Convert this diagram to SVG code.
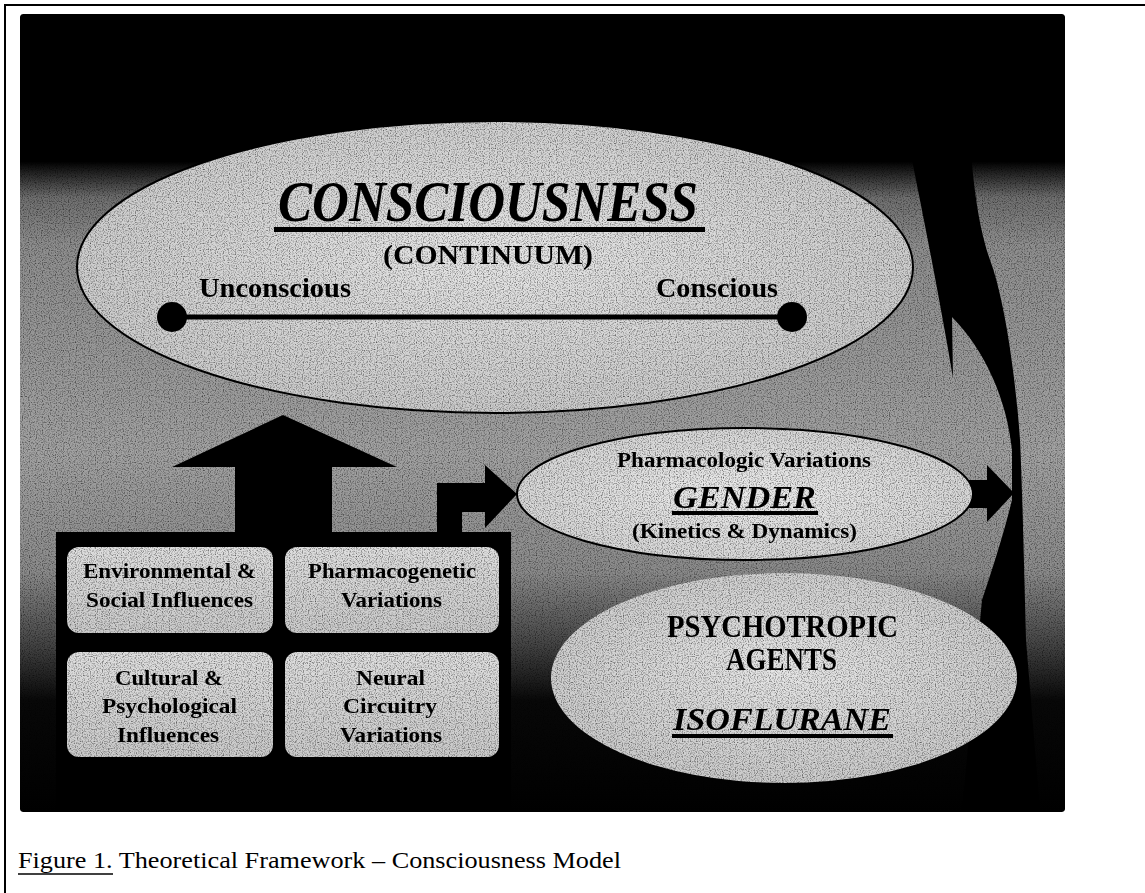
<svg xmlns="http://www.w3.org/2000/svg" width="1145" height="893" viewBox="0 0 1145 893">
  <defs>
    <style>
      .t { font-family: "Liberation Serif", "Times New Roman", serif; font-weight: bold; fill: #000; }
      .ti { font-family: "Liberation Serif", "Times New Roman", serif; font-weight: bold; font-style: italic; fill: #000; }
      .cap { font-family: "Liberation Serif", "Times New Roman", serif; font-size: 23px; fill: #000; }
      .box { fill: url(#boxFill); }
      .arrow { fill: #000; }
    </style>
    <linearGradient id="bg" gradientUnits="userSpaceOnUse" x1="0" y1="14" x2="0" y2="812">
      <stop offset="0" stop-color="#000"/>
      <stop offset="0.185" stop-color="#000"/>
      <stop offset="0.23" stop-color="#6e6e6e"/>
      <stop offset="0.29" stop-color="#8e8e8e"/>
      <stop offset="0.55" stop-color="#a2a2a2"/>
      <stop offset="0.70" stop-color="#8a8a8a"/>
      <stop offset="0.79" stop-color="#444"/>
      <stop offset="0.86" stop-color="#080808"/>
      <stop offset="1" stop-color="#000"/>
    </linearGradient>
    <radialGradient id="ellFill" cx="0.5" cy="0.45" r="0.6">
      <stop offset="0" stop-color="#e6e6e6"/>
      <stop offset="1" stop-color="#c8c8c8"/>
    </radialGradient>
    <radialGradient id="ell2Fill" cx="0.5" cy="0.5" r="0.6">
      <stop offset="0" stop-color="#ebebeb"/>
      <stop offset="1" stop-color="#d2d2d2"/>
    </radialGradient>
    <linearGradient id="boxFill" x1="0" y1="0" x2="0" y2="1">
      <stop offset="0" stop-color="#dedede"/>
      <stop offset="1" stop-color="#cacaca"/>
    </linearGradient>
    <filter id="grain" filterUnits="userSpaceOnUse" x="20" y="14" width="1045" height="798" color-interpolation-filters="sRGB">
      <feTurbulence type="fractalNoise" baseFrequency="0.85" numOctaves="1" seed="7" result="noise"/>
      <feColorMatrix in="noise" type="saturate" values="0" result="gray"/>
      <feComponentTransfer in="gray" result="adj">
        <feFuncR type="linear" slope="2.0" intercept="-0.06"/>
        <feFuncG type="linear" slope="2.0" intercept="-0.06"/>
        <feFuncB type="linear" slope="2.0" intercept="-0.06"/>
        <feFuncA type="linear" slope="0" intercept="1"/>
      </feComponentTransfer>
      <feBlend in="SourceGraphic" in2="adj" mode="multiply" result="mul"/>
      <feComposite in="mul" in2="SourceGraphic" operator="in"/>
    </filter>
  </defs>

  <!-- outer frame -->
  <line x1="5" y1="5" x2="1145" y2="5" stroke="#000" stroke-width="2"/>
  <line x1="5" y1="4" x2="5" y2="893" stroke="#000" stroke-width="2"/>

  <g filter="url(#grain)">
    <!-- panel background -->
    <g id="panel">
      <rect x="20" y="14" width="1045" height="798" rx="3" fill="url(#bg)"/>
    </g>

    <!-- connectors -->
    <g id="connectors">
      <!-- big curved arrow on the right -->
      <path class="arrow" d="M 900,110 L 912,160 C 922,210 940,300 953,378 L 952,317 C 985,350 1007,400 1012,450 L 1012,500 C 1002,540 992,570 982,600 L 962,812 L 1040,812 L 1026,640 C 1024,560 1022,480 1020,440 C 1016,380 1005,300 990,260 C 978,225 972,180 968,110 Z"/>
      <!-- up arrow from factors to consciousness -->
      <polygon class="arrow" points="283,415 397,467 332,467 332,540 235,540 235,467 172,467"/>
      <!-- frame around factor boxes -->
      <rect class="arrow" x="56" y="532" width="455" height="280"/>
      <!-- small arrow to gender -->
      <polygon class="arrow" points="437,540 437,483 485,483 485,465 517,494 485,528 485,512 462,512 462,540"/>
      <!-- arrow from gender to curved arrow -->
      <polygon class="arrow" points="965,480 987,480 987,465 1014,493 987,522 987,508 965,508"/>
    </g>

    <!-- consciousness ellipse -->
    <g id="node-consciousness">
      <ellipse cx="495" cy="267" rx="418" ry="146" fill="url(#ellFill)" stroke="#000" stroke-width="2"/>
      <text class="ti" x="278" y="221" font-size="56" textLength="420" lengthAdjust="spacingAndGlyphs">CONSCIOUSNESS</text>
      <rect x="274" y="227" width="431" height="5" fill="#000"/>
      <text class="t" x="383" y="264" font-size="27" textLength="210" lengthAdjust="spacingAndGlyphs">(CONTINUUM)</text>
      <text class="t" x="199" y="297" font-size="28" textLength="152" lengthAdjust="spacingAndGlyphs">Unconscious</text>
      <text class="t" x="656" y="297" font-size="28" textLength="122" lengthAdjust="spacingAndGlyphs">Conscious</text>
      <line x1="172" y1="317" x2="792" y2="317" stroke="#000" stroke-width="5"/>
      <circle cx="172" cy="317" r="15" fill="#000"/>
      <circle cx="792" cy="317" r="15" fill="#000"/>
    </g>

    <!-- gender ellipse -->
    <g id="node-gender">
      <ellipse cx="745" cy="494" rx="228" ry="66" fill="url(#ell2Fill)" stroke="#000" stroke-width="2"/>
      <text class="t" x="617" y="467" font-size="20" textLength="254" lengthAdjust="spacingAndGlyphs">Pharmacologic Variations</text>
      <text class="ti" x="673" y="508" font-size="32" textLength="143" lengthAdjust="spacingAndGlyphs">GENDER</text>
      <rect x="672" y="511" width="146" height="4" fill="#000"/>
      <text class="t" x="632" y="538" font-size="21" textLength="225" lengthAdjust="spacingAndGlyphs">(Kinetics &amp; Dynamics)</text>
    </g>

    <!-- psychotropic agents ellipse -->
    <g id="node-psychotropic">
      <ellipse cx="784" cy="678" rx="233" ry="105" fill="url(#ellFill)"/>
      <text class="t" x="667" y="637" font-size="32" textLength="231" lengthAdjust="spacingAndGlyphs">PSYCHOTROPIC</text>
      <text class="t" x="726" y="670" font-size="32" textLength="111" lengthAdjust="spacingAndGlyphs">AGENTS</text>
      <text class="ti" x="673" y="730" font-size="31" textLength="218" lengthAdjust="spacingAndGlyphs">ISOFLURANE</text>
      <rect x="672" y="734" width="221" height="4" fill="#000"/>
    </g>

    <!-- factor boxes -->
    <g id="node-environmental">
      <rect class="box" x="67" y="547" width="206" height="86" rx="12"/>
      <text class="t" x="83" y="578" font-size="21" textLength="173" lengthAdjust="spacingAndGlyphs">Environmental &amp;</text>
      <text class="t" x="86" y="607" font-size="21" textLength="167" lengthAdjust="spacingAndGlyphs">Social Influences</text>
    </g>
    <g id="node-pharmacogenetic">
      <rect class="box" x="285" y="547" width="214" height="86" rx="12"/>
      <text class="t" x="308" y="578" font-size="21" textLength="168" lengthAdjust="spacingAndGlyphs">Pharmacogenetic</text>
      <text class="t" x="341" y="607" font-size="21" textLength="101" lengthAdjust="spacingAndGlyphs">Variations</text>
    </g>
    <g id="node-cultural">
      <rect class="box" x="67" y="652" width="206" height="105" rx="12"/>
      <text class="t" x="115" y="685" font-size="22" textLength="108" lengthAdjust="spacingAndGlyphs">Cultural &amp;</text>
      <text class="t" x="102" y="713" font-size="22" textLength="135" lengthAdjust="spacingAndGlyphs">Psychological</text>
      <text class="t" x="117" y="742" font-size="22" textLength="102" lengthAdjust="spacingAndGlyphs">Influences</text>
    </g>
    <g id="node-neural">
      <rect class="box" x="285" y="652" width="214" height="105" rx="12"/>
      <text class="t" x="356" y="685" font-size="22" textLength="69" lengthAdjust="spacingAndGlyphs">Neural</text>
      <text class="t" x="343" y="713" font-size="22" textLength="94" lengthAdjust="spacingAndGlyphs">Circuitry</text>
      <text class="t" x="340" y="742" font-size="22" textLength="102" lengthAdjust="spacingAndGlyphs">Variations</text>
    </g>
  </g>

  <!-- caption -->
  <g id="caption">
    <text class="cap" x="18" y="868" textLength="603" lengthAdjust="spacingAndGlyphs">Figure 1. Theoretical Framework – Consciousness Model</text>
    <line x1="18" y1="874" x2="113" y2="874" stroke="#000" stroke-width="1.5"/>
  </g>
</svg>
